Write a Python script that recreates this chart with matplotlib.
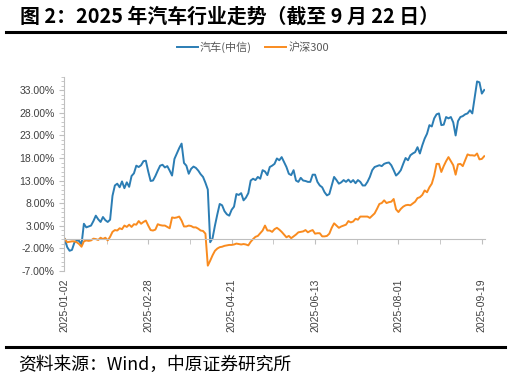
import numpy as np
import matplotlib
matplotlib.use("Agg")
import matplotlib.pyplot as plt
import matplotlib.transforms as mtransforms
from matplotlib.lines import Line2D
from matplotlib.ticker import FixedLocator, MultipleLocator, FuncFormatter

plt.rcParams['font.family'] = ['Noto Sans CJK SC', 'DejaVu Sans']

title = "图 2：2025 年汽车行业走势（截至 9 月 22 日）"
source = "资料来源：Wind，中原证券研究所"
series_names = ["汽车(中信)", "沪深300"]
date_labels = ["2025-01-02", "2025-02-28", "2025-04-21", "2025-06-13", "2025-08-01", "2025-09-19"]
label_step = 35  # trading days between date labels
y_ticks = [-7, -2, 3, 8, 13, 18, 23, 28, 33]

# cumulative return, %, one value per trading day (2025-01-02 .. 2025-09-22)
auto_pct = [
    0.0, -1.8, -2.6, -2.4, -0.8, -0.3, -0.4, -1.2, 3.4, 2.6,
    2.8, 3.0, 4.0, 5.2, 4.4, 3.8, 4.9, 4.2, 3.8, 4.3,
    9.6, 11.9, 12.3, 11.5, 12.8, 11.3, 12.6, 11.6, 14.0, 14.6,
    16.3, 16.0, 16.4, 17.3, 17.4, 15.0, 12.9, 13.0, 14.0, 15.2,
    16.3, 16.5, 15.9, 16.2, 15.2, 14.1, 17.8, 19.0, 20.2, 21.2,
    16.9, 16.3, 14.5, 15.6, 16.1, 15.8, 15.2, 14.4, 13.8, 12.5,
    11.0, -0.7, 0.2, 3.0, 5.5, 7.8, 7.5, 6.2, 5.5, 5.2,
    6.5, 7.2, 10.0, 9.8, 10.2, 8.6, 9.2, 10.2, 13.0, 13.4,
    13.1, 13.8, 13.4, 15.3, 15.0, 14.2, 16.0, 16.3, 16.7, 17.9,
    17.5, 18.2, 17.1, 16.0, 14.5, 14.2, 15.3, 13.0, 12.7, 13.6,
    13.0, 12.9, 12.7, 12.7, 14.3, 14.3, 12.7, 11.9, 11.5, 10.4,
    9.7, 10.0, 11.9, 13.8, 13.1, 12.3, 12.6, 13.1, 12.7, 13.2,
    12.6, 13.1, 12.4, 13.1, 12.7, 11.9, 11.9, 12.7, 13.8, 15.3,
    16.0, 16.2, 16.4, 16.2, 16.7, 16.9, 17.0, 16.4, 15.3, 14.1,
    14.6, 15.3, 16.7, 18.0, 17.5, 18.6, 19.0, 19.3, 20.4, 19.0,
    20.8, 22.3, 23.4, 25.3, 25.0, 26.8, 27.7, 27.9, 25.3, 25.4,
    27.1, 26.8, 27.1, 25.9, 23.0, 26.2, 27.1, 27.3, 27.7, 27.9,
    28.6, 27.9, 31.5, 35.0, 34.8, 32.3, 33.1,
]
hs300_pct = [
    0.0, -0.7, -0.6, -0.5, -0.5, -0.7, -1.1, -1.7, -0.5, -0.3,
    -0.4, -0.3, 0.1, 0.0, -0.2, 0.3, 0.0, 0.3, -0.3, 0.5,
    1.6, 2.0, 1.9, 2.4, 2.2, 3.0, 2.7, 3.2, 2.7, 3.3,
    3.2, 4.0, 3.4, 3.8, 4.1, 3.0, 2.0, 1.9, 2.1, 3.3,
    3.1, 3.0, 3.0, 2.7, 2.4, 4.8, 4.7, 4.8, 5.0, 4.1,
    2.8, 2.8, 3.0, 2.9, 2.6, 2.6, 2.3, 1.9, 1.8, 1.2,
    -5.9, -4.8, -3.6, -2.6, -2.1, -1.8, -1.7, -1.5, -1.4, -1.3,
    -1.3, -1.2, -1.0, -1.1, -1.2, -1.1, -1.2, -1.4, -0.6, 0.0,
    0.5, 0.7, 1.3, 1.9, 3.0, 1.9, 1.9, 1.6, 2.2, 2.5,
    2.1, 1.6, 1.0, 0.4, 0.7, 0.2, 0.6, 1.0, 1.5, 1.6,
    1.7, 2.0, 1.5, 1.8, 2.0, 1.2, 1.3, 1.3, 0.6, 0.6,
    0.7, 1.2, 2.5, 3.5, 3.0, 2.5, 2.8, 3.0, 3.2, 4.0,
    3.7, 3.9, 4.5, 4.3, 5.0, 5.0, 5.0, 5.0, 4.7, 5.2,
    5.7, 6.7, 7.8, 8.0, 8.6, 8.0, 8.2, 8.3, 8.9, 6.6,
    6.0, 6.7, 7.2, 7.5, 7.6, 7.5, 7.9, 8.3, 9.1, 9.3,
    9.8, 10.8, 10.4, 11.5, 12.3, 14.1, 16.7, 16.7, 14.9, 16.2,
    17.3, 18.2, 17.3, 16.4, 14.3, 16.6, 16.7, 16.2, 17.5, 18.8,
    18.6, 18.6, 18.5, 19.0, 17.7, 17.8, 18.4,
]

BLUE = "#2b7db4"
ORANGE = "#f98b1f"
AXIS_GRAY = "#bfbfbf"
TEXT_GRAY = "#404040"

fig = plt.figure(figsize=(5.11, 3.79), dpi=100)
ax = fig.add_axes([0.125, 0.286, 0.824, 0.511])

x = np.arange(len(auto_pct))
ax.plot(x, auto_pct, color=BLUE, lw=1.4, label=series_names[0])
ax.plot(x, hs300_pct, color=ORANGE, lw=1.4, label=series_names[1])

ax.set_xlim(-0.4, len(x) - 0.7)
ax.set_ylim(-7, 36)

for side in ["top", "right"]:
    ax.spines[side].set_visible(False)
ax.spines["left"].set_color(AXIS_GRAY)
ax.spines["bottom"].set_color(AXIS_GRAY)
ax.spines["bottom"].set_position(("data", 0))

# y axis
ax.yaxis.set_major_locator(FixedLocator(y_ticks))
ax.yaxis.set_minor_locator(MultipleLocator(1))
ax.yaxis.set_major_formatter(FuncFormatter(lambda v, p: f"{v:.2f}%"))
ax.tick_params(axis="y", which="both", colors=AXIS_GRAY, labelcolor=TEXT_GRAY,
               labelsize=7.5, direction="out")
ax.tick_params(axis="y", which="major", length=3.5, pad=3)
ax.tick_params(axis="y", which="minor", length=2.5)
for lab in ax.get_yticklabels():
    lab.set_family(["Liberation Sans", "DejaVu Sans"])

# x axis: category ticks, labels drawn at the bottom of the plot
tick_idx = np.arange(0, len(x), label_step)[:len(date_labels)]
ax.xaxis.set_major_locator(FixedLocator(tick_idx))
ax.xaxis.set_minor_locator(FixedLocator(tick_idx[:-1] + label_step / 2))
ax.tick_params(axis="x", which="both", colors=AXIS_GRAY, length=3.5,
               direction="out", labelbottom=False)
trans = mtransforms.blended_transform_factory(ax.transData, ax.transAxes)
for i, lab in zip(tick_idx, date_labels):
    ax.text(i, -0.04, lab, transform=trans, rotation=90, ha="center", va="top",
            fontsize=7.5, color=TEXT_GRAY, family=["Liberation Sans", "DejaVu Sans"])

fig.legend(loc="center", bbox_to_anchor=(0.495, 0.876), ncol=2, frameon=False,
           fontsize=8, handlelength=1.9, columnspacing=1.2, handletextpad=0.2,
           labelcolor="#595959")

# title, rules and source
fig.text(20 / 511, 1 - 16 / 379, title, fontsize=14.3, fontweight="bold",
         va="center", ha="left", color="black")
fig.add_artist(Line2D([6 / 511, 505 / 511], [1 - 31.5 / 379] * 2, lw=2.2, color="black"))
fig.add_artist(Line2D([6 / 511, 505 / 511], [1 - 347 / 379] * 2, lw=2.2, color="black"))
fig.text(18 / 511, 1 - 365 / 379, source, fontsize=12.8, va="center", ha="left",
         color="black")

fig.savefig("out.png", dpi=100)
